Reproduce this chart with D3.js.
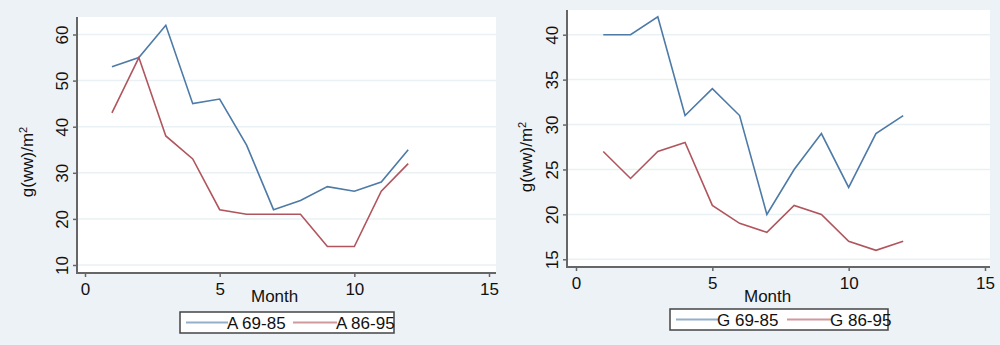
<!DOCTYPE html>
<html>
<head>
<meta charset="utf-8">
<script src="https://cdn.jsdelivr.net/npm/d3@7"></script>
<style>
  body { margin: 0; background: #edf2f6; }
  text { font-family: "Liberation Sans", Arial, sans-serif; fill: #111; }
</style>
</head>
<body>
<script>
const months = [1, 2, 3, 4, 5, 6, 7, 8, 9, 10, 11, 12]
const a6985 = [53, 55, 62, 45, 46, 36, 22, 24, 27, 26, 28, 35]
const a8695 = [43, 55, 38, 33, 22, 21, 21, 21, 14, 14, 26, 32]
const g6985 = [40, 40, 42, 31, 34, 31, 20, 25, 29, 23, 29, 31]
const g8695 = [27, 24, 27, 28, 21, 19, 18, 21, 20, 17, 16, 17]
const xTicks = [0, 5, 10, 15]
const aTicks = [10, 20, 30, 40, 50, 60]
const gTicks = [15, 20, 25, 30, 35, 40]
const aLabels = ["A 69-85", "A 86-95"]
const gLabels = ["G 69-85", "G 86-95"]

const blue = "#4d7aa6"
const red = "#b0555d"
const fs = "17px"

const svg = d3.select("body").append("svg").attr("width", 1000).attr("height", 345)
svg.append("rect").attr("width", 1000).attr("height", 345).attr("fill", "#edf2f6")

function panel(p) {
  const x = d3.scaleLinear().domain([0, 15]).range([p.x0, p.x15])
  const y = d3.scaleLinear().domain([p.ylo, p.yhi]).range([p.ylop, p.yhip])
  const g = svg.append("g")

  g.append("rect")
    .attr("x", p.left).attr("y", p.top)
    .attr("width", p.right - p.left).attr("height", p.bottom - p.top)
    .attr("fill", "#fff")

  // grid
  g.selectAll(".grid").data(p.yticks).join("line")
    .attr("x1", p.left).attr("x2", p.right)
    .attr("y1", d => y(d)).attr("y2", d => y(d))
    .attr("stroke", "#eaf1f4").attr("stroke-width", 1.5)

  // axes
  const ya = g.append("g").attr("transform", `translate(${p.left},0)`)
    .call(d3.axisLeft(y).tickValues(p.yticks).tickSize(4).tickPadding(7))
  ya.select(".domain").remove()
  ya.selectAll(".tick line").attr("stroke", "#666").attr("stroke-width", 1.5)
  ya.selectAll(".tick text")
    .attr("transform", "rotate(-90)").attr("x", 0).attr("y", -9)
    .attr("dy", 0).attr("text-anchor", "middle")
    .style("font-size", fs).style("font-family", "Liberation Sans, Arial, sans-serif")
    .attr("fill", "#111")

  const xa = g.append("g").attr("transform", `translate(0,${p.bottom})`)
    .call(d3.axisBottom(x).tickValues(xTicks).tickSize(4).tickPadding(6))
  xa.select(".domain").remove()
  xa.selectAll(".tick line").attr("stroke", "#666").attr("stroke-width", 1.5)
  xa.selectAll(".tick text")
    .style("font-size", fs).style("font-family", "Liberation Sans, Arial, sans-serif")
    .attr("fill", "#111")

  g.append("line").attr("x1", p.left).attr("x2", p.left).attr("y1", p.top).attr("y2", p.bottom + 1)
    .attr("stroke", "#666").attr("stroke-width", 2)
  g.append("line").attr("x1", p.left - 1).attr("x2", p.right).attr("y1", p.bottom).attr("y2", p.bottom)
    .attr("stroke", "#666").attr("stroke-width", 2)

  // titles
  g.append("text").attr("x", p.monthX).attr("y", 302).text("Month")
    .style("font-size", fs)
  const yt = g.append("text")
    .attr("transform", `translate(${p.ytX},${p.ytY}) rotate(-90)`)
    .attr("text-anchor", "middle")
    .style("font-size", fs)
  yt.append("tspan").text("g(ww)/m")
  yt.append("tspan").text("2").attr("dy", -6).style("font-size", "11px")

  // lines
  const line = d3.line().x((d, i) => x(months[i])).y(d => y(d))
  g.append("path").datum(p.s1).attr("d", line)
    .attr("fill", "none").attr("stroke", blue).attr("stroke-width", 1.6)
  g.append("path").datum(p.s2).attr("d", line)
    .attr("fill", "none").attr("stroke", red).attr("stroke-width", 1.6)

  // legend
  const lg = g.append("g").attr("transform", `translate(${p.lx},${p.ly})`)
  lg.append("rect").attr("x", 0).attr("y", 0).attr("width", p.lw).attr("height", 21)
    .attr("fill", "#fff").attr("stroke", "#444").attr("stroke-width", 1.5)
  lg.append("line").attr("x1", 6).attr("x2", 48).attr("y1", 10.5).attr("y2", 10.5)
    .attr("stroke", blue).attr("stroke-opacity", 0.6).attr("stroke-width", 2)
  lg.append("text").attr("x", 47).attr("y", 17).text(p.labels[0]).style("font-size", fs)
  lg.append("line").attr("x1", p.l2).attr("x2", p.l2 + 44).attr("y1", 10.5).attr("y2", 10.5)
    .attr("stroke", red).attr("stroke-opacity", 0.6).attr("stroke-width", 2)
  lg.append("text").attr("x", p.l2 + 43).attr("y", 17).text(p.labels[1]).style("font-size", fs)
}

panel({
  left: 77, right: 496, top: 17, bottom: 273,
  x0: 85, x15: 489, ylo: 10, yhi: 60, ylop: 265, yhip: 34.5,
  yticks: aTicks, s1: a6985, s2: a8695, labels: aLabels,
  monthX: 251, ytX: 33, ytY: 162,
  lx: 180, ly: 312, lw: 214, l2: 113
})

panel({
  left: 567, right: 990, top: 10, bottom: 267,
  x0: 576, x15: 985, ylo: 15, yhi: 40, ylop: 259.3, yhip: 34.7,
  yticks: gTicks, s1: g6985, s2: g8695, labels: gLabels,
  monthX: 744, ytX: 532, ytY: 157,
  lx: 670, ly: 309, lw: 218, l2: 117
})
</script>
</body>
</html>
